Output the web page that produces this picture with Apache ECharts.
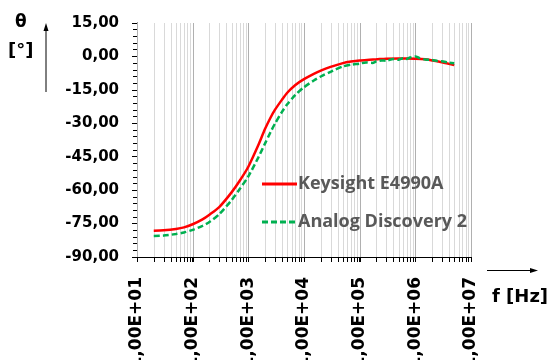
<!DOCTYPE html>
<html>
<head>
<meta charset="utf-8">
<script src="https://cdn.jsdelivr.net/npm/echarts@6/dist/echarts.min.js"></script>
<style>
  html, body { margin: 0; padding: 0; background: #fff; }
  #chart { width: 553px; height: 360px; }
</style>
</head>
<body>
<div id="chart"></div>
<script>
// Phase of the impedance vs. frequency, two instruments
const keysightFreq = [20, 30, 50, 70, 100, 150, 200, 300, 500, 700, 1000, 1500, 2000, 2500, 3000, 4000, 5000, 7000,
  1e4, 1.5e4, 2e4, 3e4, 5e4, 7e4, 1e5, 1.5e5, 2e5, 3e5, 5e5, 7e5, 1e6, 1.5e6, 2e6, 3e6, 5e6];
const keysightPhase = [-78.2, -78.0, -77.4, -76.7, -75.3, -73.1, -71.0, -67.6, -61.0, -55.8, -49.5, -40.0, -32.5, -27.5, -24.0, -19.5, -16.3, -12.8,
  -10.2, -7.8, -6.4, -4.7, -3.0, -2.3, -1.8, -1.5, -1.3, -1.0, -0.9, -0.9, -1.0, -1.3, -1.8, -2.6, -3.9];

const adFreq = [20, 30, 50, 70, 100, 150, 200, 300, 500, 700, 1000, 1500, 2000, 2500, 3000, 4000, 5000, 7000,
  1e4, 1.5e4, 2e4, 3e4, 5e4, 7e4, 1e5, 1.3e5, 1.7e5, 2e5, 2.5e5, 3e5, 4e5, 5e5, 6e5, 7e5, 8e5,
  1e6, 1.2e6, 1.5e6, 2e6, 2.5e6, 3e6, 4e6, 5e6];
const adPhase = [-80.6, -80.4, -79.7, -79.0, -77.8, -76.0, -74.3, -70.8, -64.5, -59.5, -53.8, -45.5, -39.0, -34.0, -30.2, -25.0, -21.5, -17.3,
  -13.8, -10.8, -9.0, -6.9, -4.5, -3.7, -3.2, -2.7, -2.9, -2.2, -1.8, -1.9, -1.2, -1.5, -0.8, -1.1, -0.5,
  0.0, -0.8, -1.4, -1.6, -2.1, -2.2, -2.8, -3.1];

const seriesNames = ['Keysight E4990A', 'Analog Discovery 2'];
const yMin = -90, yMax = 15, yStep = 15;
const fMin = 10, fMax = 1e7;

// log-decade grid positions (1..9 x 10^n)
const gridFreq = [];
for (let e = 1; e < 7; e++) {
  for (let m = 1; m <= 9; m++) gridFreq.push([m * Math.pow(10, e), m === 1 ? 1 : 0]);
}
gridFreq.push([fMax, 1]);

const pair = (xs, ys) => xs.map((x, i) => [x, ys[i]]);
const fmtComma = v => v.toFixed(2).replace('.', ',');
const fmtExp = v => {
  const e = Math.round(Math.log10(v));
  return '1,00E+' + (e < 10 ? '0' : '') + e;
};

// legend keys: solid and dashed strokes
const solidKey = 'path://M0,0h35v3h-35z';
const dashedKey = 'path://M0,0h6v3h-6z M9,0h6v3h-6z M18,0h6v3h-6z M27,0h6v3h-6z M35,0h0v3h0z';

const chart = echarts.init(document.getElementById('chart'), null, { renderer: 'canvas' });
chart.setOption({
  animation: false,
  backgroundColor: '#ffffff',
  grid: { left: 137, right: 82, top: 23, bottom: 103, containLabel: false, outerBoundsMode: 'none' },
  xAxis: {
    type: 'log', logBase: 10, min: fMin, max: fMax,
    axisLine: { show: true, onZero: false, lineStyle: { color: '#000', width: 1 } },
    axisTick: { show: true, inside: false, length: 5, lineStyle: { color: '#000' } },
    splitLine: { show: false },
    axisLabel: {
      rotate: 90, margin: 20, color: '#000', padding: [6, 0, 0, 0],
      fontFamily: 'DejaVu Sans', fontWeight: 'bold', fontSize: 17,
      formatter: fmtExp
    }
  },
  yAxis: {
    type: 'value', min: yMin, max: yMax, interval: yStep,
    axisLine: { show: true, onZero: false, lineStyle: { color: '#000', width: 1 } },
    axisTick: { show: true, inside: false, length: 5, lineStyle: { color: '#000' } },
    minorTick: { show: true, splitNumber: 5, length: 4, lineStyle: { color: '#000' } },
    splitLine: { show: false },
    axisLabel: {
      margin: 18, color: '#000',
      fontFamily: 'DejaVu Sans', fontWeight: 'bold', fontSize: 15,
      formatter: fmtComma
    }
  },
  legend: {
    data: [
      { name: seriesNames[0], icon: solidKey },
      { name: seriesNames[1], icon: dashedKey }
    ],
    orient: 'vertical', left: 262, top: 175, padding: 0,
    itemWidth: 35, itemHeight: 3, itemGap: 20,
    textStyle: { color: '#595959', fontFamily: 'Open Sans', fontWeight: 700, fontSize: 18, padding: [0, 0, 0, -4] }
  },
  graphic: [
    { type: 'text', left: 15, top: 14, style: { text: 'θ', font: 'bold 17px "DejaVu Sans"', fill: '#000' } },
    { type: 'text', left: 8, top: 42, style: { text: '[°]', font: 'bold 18px "DejaVu Sans"', fill: '#000' } },
    { type: 'line', shape: { x1: 46, y1: 92, x2: 46, y2: 30 }, style: { stroke: '#000', lineWidth: 1 } },
    { type: 'polygon', shape: { points: [[46, 23], [43.5, 31], [48.5, 31]] }, style: { fill: '#000' } },
    { type: 'line', shape: { x1: 487, y1: 270.5, x2: 530, y2: 270.5 }, style: { stroke: '#000', lineWidth: 1 } },
    { type: 'polygon', shape: { points: [[538, 270.5], [530, 268], [530, 273]] }, style: { fill: '#000' } },
    { type: 'text', left: 492, top: 288, style: { text: 'f [Hz]', font: 'bold 18px "DejaVu Sans"', fill: '#000' } }
  ],
  series: [
    {
      name: 'decade grid', type: 'custom', silent: true, clip: false, z: 1,
      data: gridFreq,
      renderItem: (params, api) => {
        const f = api.value(0);
        const major = api.value(1) === 1;
        const top = api.coord([f, yMax]);
        const bot = api.coord([f, yMin]);
        const x = Math.round(top[0]) + 0.5;
        return {
          type: 'group',
          children: [
            { type: 'line', shape: { x1: x, y1: top[1], x2: x, y2: bot[1] },
              style: { stroke: major ? '#b0b0b0' : '#d9d9d9', lineWidth: 1 } },
            { type: 'line', shape: { x1: x, y1: bot[1], x2: x, y2: bot[1] + 5 },
              style: { stroke: '#000', lineWidth: 1 } }
          ]
        };
      }
    },
    {
      name: seriesNames[0], type: 'line', data: pair(keysightFreq, keysightPhase),
      showSymbol: false, symbol: 'none', smooth: 0.25, z: 3,
      color: '#FF0000',
      lineStyle: { color: '#FF0000', width: 2.5 }
    },
    {
      name: seriesNames[1], type: 'line', data: pair(adFreq, adPhase),
      showSymbol: false, symbol: 'none', smooth: 0.25, z: 4,
      color: '#00B050',
      lineStyle: { color: '#00B050', width: 2.5, type: [6, 3] }
    }
  ]
});
</script>
</body>
</html>
